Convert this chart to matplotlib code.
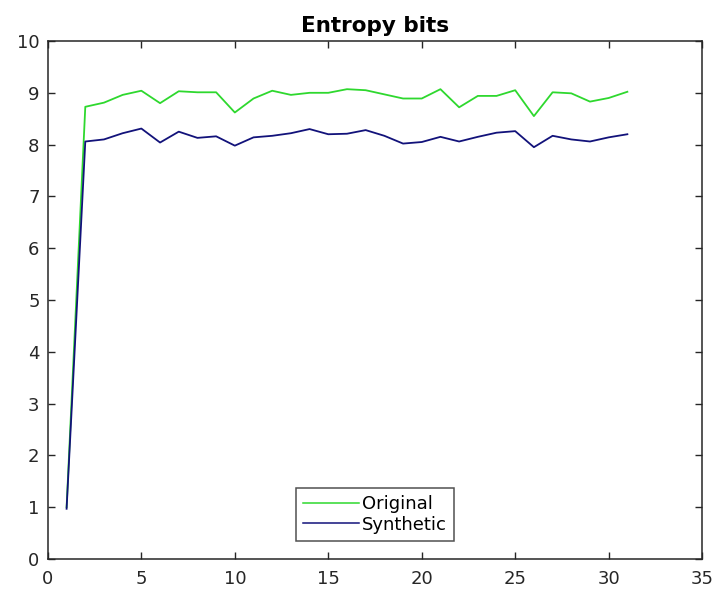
import matplotlib
matplotlib.use("Agg")
import matplotlib.pyplot as plt
import matplotlib.ticker as ticker

# Entropy (bits) per step for the original and synthetic data
steps = list(range(1, 32))
original = [1.00, 8.73, 8.81, 8.96, 9.04, 8.80, 9.03, 9.01, 9.01, 8.62,
            8.89, 9.04, 8.96, 9.00, 9.00, 9.07, 9.05, 8.97, 8.89, 8.89,
            9.07, 8.72, 8.94, 8.94, 9.05, 8.55, 9.01, 8.99, 8.83, 8.90,
            9.02]
synthetic = [0.97, 8.06, 8.10, 8.22, 8.31, 8.04, 8.25, 8.13, 8.16, 7.98,
             8.14, 8.17, 8.22, 8.30, 8.20, 8.21, 8.28, 8.17, 8.02, 8.05,
             8.15, 8.06, 8.15, 8.23, 8.26, 7.95, 8.17, 8.10, 8.06, 8.14,
             8.20]

plt.rcParams['font.family'] = ['DejaVu Sans']

fig = plt.figure(figsize=(7.15, 5.9), dpi=100)
ax = fig.add_axes([0.067, 0.0525, 0.915, 0.878])

ax.plot(steps, original, color="#2ed82e", linewidth=1.3, label="Original")
ax.plot(steps, synthetic, color="#12127a", linewidth=1.3, label="Synthetic")

ax.set_xlim(0, 35)
ax.set_ylim(0, 10)
ax.xaxis.set_major_locator(ticker.MultipleLocator(5))
ax.yaxis.set_major_locator(ticker.MultipleLocator(1))

# inward ticks on all four sides
ax.tick_params(direction="in", length=5, width=1, colors="#262626",
               labelsize=13, top=True, right=True)
ax.tick_params(axis="x", pad=8)
ax.tick_params(axis="y", pad=6)
for side in ax.spines.values():
    side.set_linewidth(1.1)
    side.set_color("#262626")

ax.set_title("Entropy bits", fontsize=15.5, fontweight="bold", pad=6.5)

leg = ax.legend(loc="lower center", fontsize=13, frameon=True, fancybox=False,
                edgecolor="#262626", handlelength=3.1, handletextpad=0.2,
                borderpad=0.4, labelspacing=0.15, borderaxespad=1.0)
leg.get_frame().set_linewidth(1.1)
for line in leg.get_lines():
    line.set_linewidth(1.1)

fig.savefig("out.png", dpi=100)
